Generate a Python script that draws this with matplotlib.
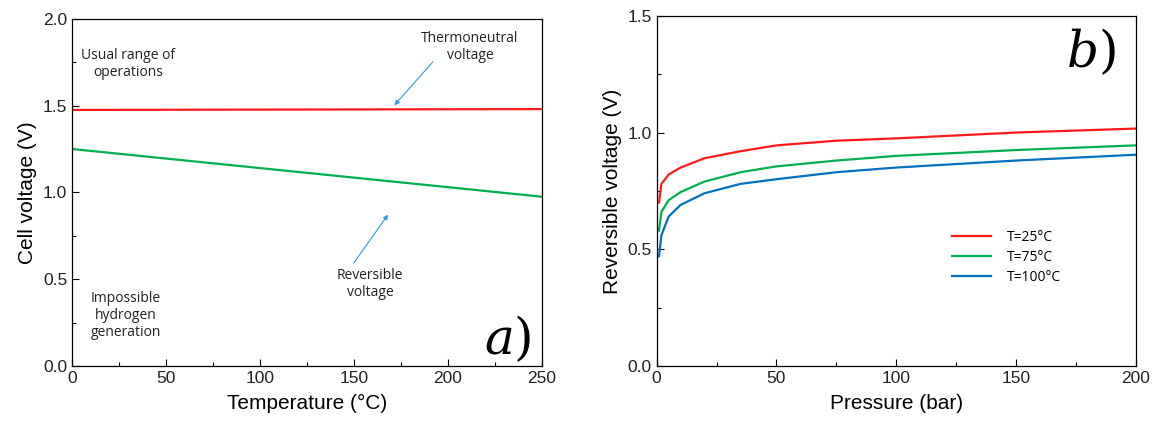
import numpy as np
import matplotlib.pyplot as plt
from matplotlib.ticker import MultipleLocator

# panel a) cell voltage vs temperature
temperature = [0, 50, 100, 150, 200, 250]
thermoneutral = [1.475, 1.476, 1.477, 1.478, 1.479, 1.480]
reversible = [1.250, 1.195, 1.140, 1.085, 1.030, 0.975]

# panel b) reversible voltage vs pressure
pressure = [1, 2, 5, 10, 20, 35, 50, 75, 100, 150, 200]
v_25 = [0.70, 0.78, 0.82, 0.85, 0.89, 0.92, 0.945, 0.965, 0.975, 1.000, 1.017]
v_75 = [0.58, 0.66, 0.71, 0.745, 0.79, 0.83, 0.855, 0.88, 0.900, 0.925, 0.945]
v_100 = [0.47, 0.56, 0.64, 0.69, 0.74, 0.78, 0.800, 0.83, 0.850, 0.880, 0.905]
series_labels = ['T=25°C', 'T=75°C', 'T=100°C']

RED = '#ff1a1a'
GREEN = '#00b050'
BLUE = '#0070c0'
ARROW = '#2e9be0'
note_font = 'Open Sans'

plt.rcParams['font.family'] = 'Liberation Sans'

fig = plt.figure(figsize=(11.52, 4.28), dpi=100)
ax1 = fig.add_axes([0.0625, 0.145, 0.408, 0.811])
ax2 = fig.add_axes([0.570, 0.145, 0.416, 0.818])


def style_axis(ax):
    ax.tick_params(which='both', direction='in', labelsize=12.5, width=0.8,
                   labelcolor='#222222')
    ax.tick_params(which='major', length=5)
    ax.tick_params(which='minor', length=3)
    for s in ax.spines.values():
        s.set_linewidth(0.9)


# ----- a)
ax1.plot(temperature, thermoneutral, color=RED, lw=1.6)
ax1.plot(temperature, reversible, color=GREEN, lw=1.6)
ax1.set_xlim(0, 250)
ax1.set_ylim(0, 2.0)
ax1.xaxis.set_major_locator(MultipleLocator(50))
ax1.xaxis.set_minor_locator(MultipleLocator(25))
ax1.yaxis.set_major_locator(MultipleLocator(0.5))
ax1.yaxis.set_minor_locator(MultipleLocator(0.25))
ax1.yaxis.set_major_formatter(lambda v, p: f'{v:.1f}')
style_axis(ax1)
ax1.set_xlabel('Temperature (°C)', fontsize=15, labelpad=6)
ax1.set_ylabel('Cell voltage (V)', fontsize=15, labelpad=4)

ax1.text(30, 1.74, 'Usual range of\noperations', ha='center', va='center',
         fontsize=10, family=note_font, color='#222222')
ax1.text(28.7, 0.29, 'Impossible\nhydrogen\ngeneration', ha='center', va='center',
         fontsize=10, family=note_font, color='#222222')
ax1.text(211.7, 1.84, 'Thermoneutral\nvoltage', ha='center', va='center',
         fontsize=10, family=note_font, color='#222222')
ax1.text(158.5, 0.47, 'Reversible\nvoltage', ha='center', va='center',
         fontsize=10, family=note_font, color='#222222')
ax1.annotate('', xy=(170.5, 1.49), xytext=(193, 1.765),
             arrowprops=dict(arrowstyle='-|>', color=ARROW, lw=0.8, mutation_scale=7))
ax1.annotate('', xy=(169, 0.885), xytext=(149, 0.58),
             arrowprops=dict(arrowstyle='-|>', color=ARROW, lw=0.8, mutation_scale=7))
ax1.text(232, 0.15, r'$a)$', ha='center', va='center', fontsize=36,
         family='DejaVu Serif', math_fontfamily='dejavuserif')

# ----- b)
for vals, c, lab in zip([v_25, v_75, v_100], [RED, GREEN, BLUE], series_labels):
    ax2.plot(pressure, vals, color=c, lw=1.6, label=lab)
ax2.set_xlim(0, 200)
ax2.set_ylim(0, 1.5)
ax2.xaxis.set_major_locator(MultipleLocator(50))
ax2.xaxis.set_minor_locator(MultipleLocator(25))
ax2.yaxis.set_major_locator(MultipleLocator(0.5))
ax2.yaxis.set_minor_locator(MultipleLocator(0.25))
ax2.yaxis.set_major_formatter(lambda v, p: f'{v:.1f}')
style_axis(ax2)
ax2.set_xlabel('Pressure (bar)', fontsize=15, labelpad=6)
ax2.set_ylabel('Reversible voltage (V)', fontsize=15, labelpad=4)
ax2.text(181, 1.34, r'$b)$', ha='center', va='center', fontsize=36,
         family='DejaVu Serif', math_fontfamily='dejavuserif')
ax2.legend(loc='center', bbox_to_anchor=(0.73, 0.31), frameon=False,
           prop={'family': note_font, 'size': 10}, handlelength=2.8,
           handletextpad=1.2, labelspacing=0.35)

fig.savefig('out.png', dpi=100)
